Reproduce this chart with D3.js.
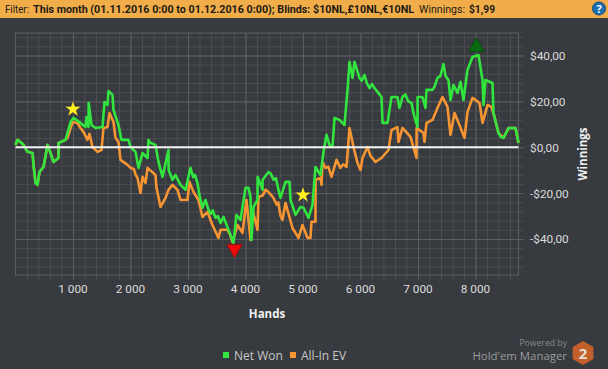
<!DOCTYPE html>
<html>
<head>
<meta charset="utf-8">
<script src="https://cdn.jsdelivr.net/npm/d3@7"></script>
<style>
  html, body { margin: 0; padding: 0; background: #373a3e; overflow: hidden; }
  text { font-family: "Open Sans", sans-serif; }
</style>
</head>
<body>
<script>
const netHands = [0,35,87,139,209,296,313,348,383,417,487,557,609,661,748,750,870,957,1009,1130,1217,1235,1270,1272,1322,1391,1513,1548,1600,1617,1687,1704,1791,1843,1965,2000,2087,2139,2209,2296,2313,2348,2435,2487,2557,2661,2663,2730,2782,2870,2957,3043,3090,3120,3165,3200,3252,3304,3357,3400,3430,3478,3520,3565,3617,3739,3791,3843,3913,4000,4052,4087,4104,4139,4209,4211,4296,4298,4400,4440,4487,4530,4574,4609,4696,4765,4783,4870,4957,5009,5096,5165,5217,5304,5357,5409,5461,5513,5548,5635,5722,5774,5809,5861,5896,5983,6020,6070,6110,6157,6200,6243,6300,6365,6383,6470,6539,6643,6678,6730,6780,6830,6887,6930,6991,6993,7078,7130,7148,7252,7290,7339,7390,7443,7480,7530,7565,7617,7687,7739,7791,7861,7948,8052,8122,8139,8174,8296,8313,8400,8440,8487,8530,8574,8696,8748];
const netWon = [1,3.2,2.3,1,-2,-2.5,-7.7,-15.6,-16.4,-10.8,-8.6,1,-2.5,-6.4,-4.7,1.9,3.2,11,12.8,10.6,8.8,13.2,8.8,19.3,9.7,8.4,8.8,19.7,18.4,24.5,22.8,16.3,9.7,3.2,3.2,0.1,-2,-9,-2.5,-4.7,3.2,1.9,1,-6.4,-12.9,-1.2,-9.9,-14.2,-12.1,-16.4,-18.6,-9,-13,-12,-15.6,-21,-26.4,-23,-27.3,-29,-27.5,-30.8,-30,-33,-30.4,-38.2,-41.7,-29.5,-31.7,-17.7,-17.7,-21.7,-40.4,-26,-23,-12.9,-18.6,-14.2,-10.8,-11.5,-14.2,-13.5,-18.6,-22.1,-15.1,-15.1,-23,-29.5,-26,-26.4,-30.8,-25.1,-8.6,-12.1,-2,5.4,1,0.1,12.8,11.9,9.7,25,37.2,30.2,37.2,30.2,29,31.5,28,25.8,27.5,25.8,24,21.9,10.6,10.6,21.9,21.9,17.1,21.9,23,20,19.3,14,8.8,21.9,21.9,17.1,25,25,26.5,30.2,31,36.3,31,29.3,20.6,27.1,23.7,28.5,20.6,33.7,39.3,40.2,29.3,18.4,29.3,28,14.9,6.2,4.5,4.1,6,8.4,8.4,1.9];

const evHands = [0,35,87,139,209,296,313,348,383,417,487,557,609,661,748,750,870,904,991,1078,1130,1183,1252,1287,1339,1426,1496,1530,1600,1635,1704,1739,1791,1826,1948,2000,2060,2090,2122,2174,2209,2261,2296,2435,2452,2522,2609,2661,2730,2817,2870,2991,3026,3096,3183,3252,3339,3426,3530,3565,3687,3730,3774,3861,3948,4017,4087,4122,4209,4226,4300,4350,4400,4487,4540,4570,4610,4643,4696,4817,4922,4991,5078,5130,5148,5217,5219,5304,5322,5339,5390,5440,5496,5583,5650,5700,5757,5809,5878,5948,6000,6035,6122,6174,6261,6365,6487,6539,6643,6661,6730,6870,6974,6976,7096,7113,7148,7252,7339,7426,7513,7565,7635,7722,7809,7861,7948,8070,8122,8209,8278,8330,8400,8487,8574,8696,8748];
const allInEv = [1,3.2,2.3,1,-2,-2.5,-7.7,-15.6,-16.4,-10.8,-8.6,1,-2.5,-6.4,-4.7,1.9,3.2,4.1,11,10.6,8.4,6.7,3.2,5.8,0.1,-2,-1.2,8.4,8.8,14.9,11,4.1,2.3,-5.5,-7.7,-9,-9.5,-12,-13.4,-19.9,-12.9,-15.6,-9,-12.1,-17.7,-26,-22.1,-18.6,-16.4,-18.6,-23,-23,-15.1,-19.5,-23,-30.4,-28.2,-33.9,-39.5,-36,-36,-38,-41.3,-33.9,-37.3,-23,-40.4,-27.3,-36,-21.7,-21,-18.5,-19.5,-22.1,-25,-24,-30,-31.7,-24.3,-35.2,-39.5,-33.9,-39.5,-39.5,-32.5,-32.5,-14.2,-13.4,-16.4,-6.4,-9,-8.5,-12.9,-5.5,-9,-7.5,-8.6,8.4,0.1,-6.8,-9.9,-4.7,0.1,-3.8,-6.4,-4.7,-1.2,7.5,8.8,2.3,8.4,4.5,-4.7,8.4,6.2,2.3,10.6,11.9,17.1,21.9,17.6,5.4,14.9,9.7,4.1,15.4,21.5,19.3,10.6,18.4,17.6,13.2,6.2,4.1,8.4,8.4,1.9];

const handTicks = [1000,2000,3000,4000,5000,6000,7000,8000];
const handLabels = ["1 000","2 000","3 000","4 000","5 000","6 000","7 000","8 000"];
const minorHands = d3.range(200, 8748, 200);
const moneyTicks = [40,20,0,-20,-40];
const moneyLabels = ["$40,00","$20,00","$0,00","-$20,00","-$40,00"];
const minorMoney = d3.range(-52, 49, 4);
const legendNames = ["Net Won","All-In EV"];
const legendColors = ["#31e53e","#f79533"];
const filterTexts = ["Filter:","This month (01.11.2016 0:00 to 01.12.2016 0:00); Blinds: $10NL,£10NL,€10NL","Winnings:","$1,99"];

const stars = [[1000,16.6],[5000,-20.8]];
const maxMark = [8017,43.7];
const minMark = [3809,-44.3];

const width = 608, height = 369;
const margin = {top: 33, right: 89.5, bottom: 94, left: 15.5};

const svg = d3.select("body").append("svg")
  .attr("width", width)
  .attr("height", height)
  .style("display", "block");

svg.append("rect").attr("width", width).attr("height", height).attr("fill", "#373a3e");

// filter bar
svg.append("rect").attr("width", width).attr("height", 18).attr("fill", "#f2ad4b");
const filterX = [5, 33, 419, 469];
const filterW = [24, 381, 46, 26];
filterTexts.forEach((t, i) => {
  svg.append("text").attr("x", filterX[i]).attr("y", 13)
    .attr("textLength", filterW[i]).attr("lengthAdjust", "spacingAndGlyphs")
    .style("font-family", "Roboto, sans-serif")
    .attr("font-size", 10.8).attr("font-weight", i % 2 ? 700 : 400).attr("fill", "#1c1a14").text(t);
});

svg.append("circle").attr("cx", 599).attr("cy", 8.5).attr("r", 6.5).attr("fill", "#1d6fb0").attr("stroke", "#0f4b80");
svg.append("text").attr("x", 599).attr("y", 12.5).attr("text-anchor", "middle")
  .attr("font-size", 11).attr("font-weight", 700).attr("fill", "#fff").text("?");

const x = d3.scaleLinear()
  .domain([0, 8748])
  .range([margin.left, width - margin.right]);
const y = d3.scaleLinear()
  .domain([-55.7, 49.8])
  .range([height - margin.bottom, margin.top]);

const plotTop = margin.top, plotBottom = height - margin.bottom;
const plotLeft = margin.left, plotRight = width - margin.right;

// grid, minor first so the major lines sit on top
const gridX = (ticks, color, extra) => svg.append("g")
  .attr("transform", "translate(0," + plotBottom + ")")
  .call(d3.axisBottom(x).tickValues(ticks).tickSize(0).tickFormat(""))
  .call(g => g.select(".domain").remove())
  .call(g => g.selectAll("line").attr("y1", extra).attr("y2", plotTop - plotBottom).attr("stroke", color));
const gridY = (ticks, color, extra) => svg.append("g")
  .attr("transform", "translate(" + plotLeft + ",0)")
  .call(d3.axisRight(y).tickValues(ticks).tickSize(0).tickFormat(""))
  .call(g => g.select(".domain").remove())
  .call(g => g.selectAll("line").attr("x1", 0).attr("x2", plotRight - plotLeft + extra).attr("stroke", color));

gridX(minorHands, "#4a4d51", 5);
gridY(minorMoney, "#4a4d51", 5);
gridX(handTicks, "#5c5f62", 5);
gridY(moneyTicks, "#5c5f62", 5);

svg.append("rect").attr("x", plotLeft).attr("y", plotTop).attr("width", plotRight - plotLeft).attr("height", plotBottom - plotTop)
  .attr("fill", "none").attr("stroke", "#5c5f62");

// series
const evLine = d3.line().x((d, i) => x(evHands[i])).y(d => y(d));
const netLine = d3.line().x((d, i) => x(netHands[i])).y(d => y(d));

svg.append("path").datum(allInEv).attr("fill", "none").attr("stroke", legendColors[1])
  .attr("stroke-width", 2.6).attr("stroke-linejoin", "round").attr("d", evLine);
svg.append("path").datum(netWon).attr("fill", "none").attr("stroke", legendColors[0])
  .attr("stroke-width", 2.6).attr("stroke-linejoin", "round").attr("d", netLine);

// zero line
svg.append("line").attr("x1", plotLeft).attr("x2", plotRight).attr("y1", y(0)).attr("y2", y(0))
  .attr("stroke", "#f4f4f4").attr("stroke-width", 2);

// markers
svg.selectAll(".star").data(stars).enter().append("path")
  .attr("class", "star")
  .attr("d", d3.symbol().type(d3.symbolStar).size(92))
  .attr("transform", d => "translate(" + x(d[0]) + "," + y(d[1]) + ")")
  .attr("fill", "#fff21a").attr("stroke", "#2a2a55").attr("stroke-width", 0.6);

svg.append("path")
  .attr("d", d3.symbol().type(d3.symbolTriangle).size(105))
  .attr("transform", "translate(" + x(maxMark[0]) + "," + y(maxMark[1]) + ")")
  .attr("fill", "#0a6a12").attr("stroke", "#084a0e");
svg.append("path")
  .attr("d", d3.symbol().type(d3.symbolTriangle).size(105))
  .attr("transform", "translate(" + x(minMark[0]) + "," + y(minMark[1]) + ") rotate(180)")
  .attr("fill", "#ee0a0a").attr("stroke", "#8a1414");

// tick labels
svg.selectAll(".hand-label").data(handTicks).enter().append("text")
  .attr("class", "hand-label")
  .attr("x", d => x(d))
  .attr("y", 293)
  .attr("text-anchor", "middle")
  .style("font-family", "Roboto, sans-serif")
  .attr("font-size", 11.8).attr("fill", "#dcdcdc")
  .text((d, i) => handLabels[i]);

svg.selectAll(".money-label").data(moneyTicks).enter().append("text")
  .attr("class", "money-label")
  .attr("x", 530)
  .attr("y", d => y(d) + 4.5)
  .style("font-family", "Roboto, sans-serif")
  .attr("font-size", 11.8).attr("fill", "#dcdcdc")
  .text((d, i) => moneyLabels[i]);

svg.append("text").attr("x", 267).attr("y", 318).attr("text-anchor", "middle")
  .attr("font-size", 11.5).attr("font-weight", 700).attr("fill", "#f0f0f0").text("Hands");
svg.append("text").attr("transform", "translate(587,154) rotate(-90)").attr("text-anchor", "middle")
  .attr("font-size", 11.5).attr("font-weight", 700).attr("fill", "#f0f0f0").text("Winnings");

// legend
const legendX = [223, 290];
legendNames.forEach((name, i) => {
  svg.append("rect").attr("x", legendX[i]).attr("y", 352).attr("width", 6).attr("height", 6).attr("fill", legendColors[i]);
  svg.append("text").attr("x", legendX[i] + 11).attr("y", 360).attr("font-size", 12).attr("fill", "#c8c8c8").text(name);
});

// logo
svg.append("text").attr("x", 567).attr("y", 346).attr("text-anchor", "end")
  .attr("font-size", 8.7).attr("fill", "#85888b").text("Powered by");
svg.append("text").attr("x", 567).attr("y", 360).attr("text-anchor", "end")
  .attr("font-size", 11.4).attr("fill", "#9a9c9e").text("Hold'em Manager");
const hex = d3.range(6).map(i => [583 + 12 * Math.sin(i * Math.PI / 3), 353 + 12 * Math.cos(i * Math.PI / 3)]);
svg.append("path").attr("d", d3.line()(hex) + "Z").attr("fill", "#c25f2b");
svg.append("text").attr("x", 583).attr("y", 358.5).attr("text-anchor", "middle")
  .attr("font-size", 15).attr("font-weight", 700).attr("fill", "#e6e0da").text("2");
</script>
</body>
</html>
